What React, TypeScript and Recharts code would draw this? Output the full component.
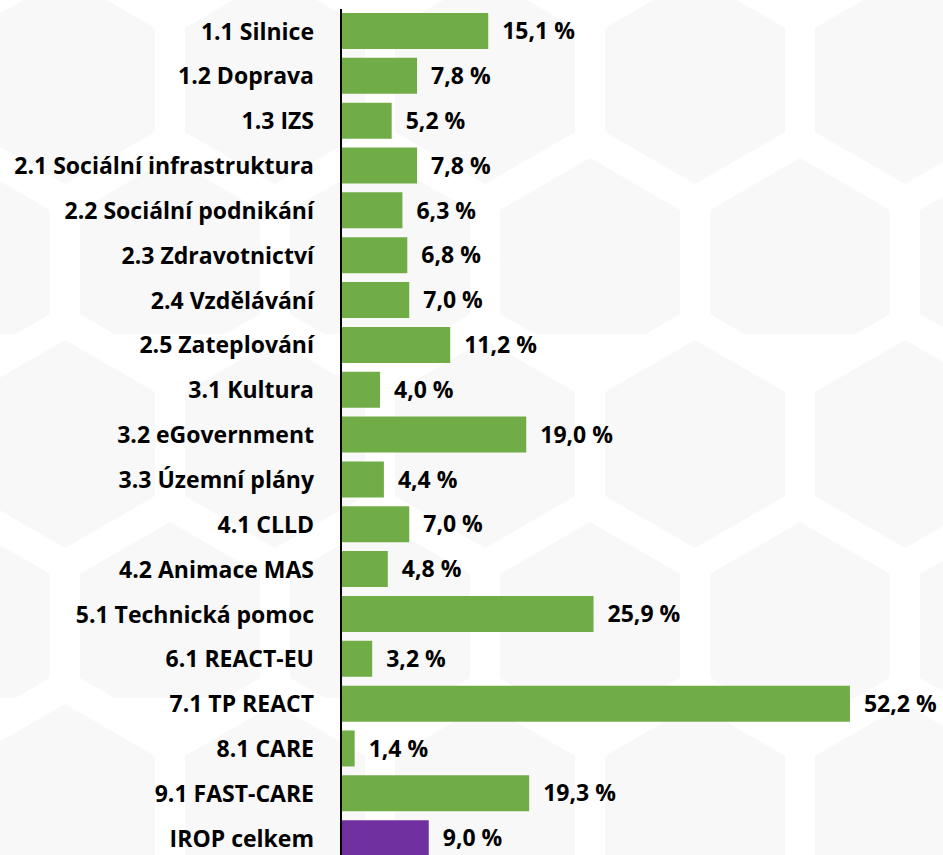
import React from 'react';
import { BarChart, Bar, XAxis, YAxis, Cell, LabelList } from 'recharts';

const categories = [
  '1.1 Silnice',
  '1.2 Doprava',
  '1.3 IZS',
  '2.1 Sociální infrastruktura',
  '2.2 Sociální podnikání',
  '2.3 Zdravotnictví',
  '2.4 Vzdělávání',
  '2.5 Zateplování',
  '3.1 Kultura',
  '3.2 eGovernment',
  '3.3 Územní plány',
  '4.1 CLLD',
  '4.2 Animace MAS',
  '5.1 Technická pomoc',
  '6.1 REACT-EU',
  '7.1 TP REACT',
  '8.1 CARE',
  '9.1 FAST-CARE',
  'IROP celkem',
];
const shares = [15.1, 7.8, 5.2, 7.8, 6.3, 6.8, 7.0, 11.2, 4.0, 19.0, 4.4, 7.0, 4.8, 25.9, 3.2, 52.2, 1.4, 19.3, 9.0];
const totalLabel = 'IROP celkem';

const GREEN = '#70AD47';
const PURPLE = '#7030A0';
const FONT = '"Open Sans", "Noto Sans", sans-serif';

const data = categories.map((name, i) => ({ name, value: shares[i] }));

const fmt = (v: any) => `${Number(v).toFixed(1).replace('.', ',')} %`;

// faint hexagon decoration behind the chart
const HexBackground: React.FC = () => (
  <svg width={943} height={855} style={{ position: 'absolute', left: 0, top: 0 }}>
    <defs>
      <pattern id="hex" width={210} height={364} patternUnits="userSpaceOnUse" x={-40} y={-30}>
        <polygon points="105,6 195,58 195,162 105,214 15,162 15,58" fill="#f8f8f8" />
        <polygon points="0,188 90,240 90,344 0,396 -90,344 -90,240" fill="#f8f8f8" />
        <polygon points="210,188 300,240 300,344 210,396 120,344 120,240" fill="#f8f8f8" />
      </pattern>
    </defs>
    <rect width={943} height={855} fill="url(#hex)" />
  </svg>
);

export default function App() {
  return (
    <div
      style={{
        position: 'fixed',
        left: 0,
        top: 0,
        width: 943,
        height: 855,
        overflow: 'hidden',
        background: '#ffffff',
        fontFamily: FONT,
      }}
    >
      <HexBackground />
      <div style={{ position: 'absolute', left: 0, top: 0 }}>
        <BarChart
          width={943}
          height={861}
          data={data}
          layout="vertical"
          margin={{ top: 9, right: 17, bottom: 0, left: 0 }}
          barCategoryGap={9}
        >
          <XAxis type="number" domain={[0, 60]} hide />
          <YAxis
            type="category"
            dataKey="name"
            width={341}
            axisLine={{ stroke: '#000000', strokeWidth: 2 }}
            tickLine={false}
            tickMargin={21}
            interval={0}
            tick={{ fill: '#000000', fontSize: 23, fontWeight: 700, fontFamily: FONT }}
          />
          <Bar dataKey="value" isAnimationActive={false} barSize={36}>
            {data.map((d) => (
              <Cell key={d.name} fill={d.name === totalLabel ? PURPLE : GREEN} />
            ))}
            <LabelList
              dataKey="value"
              position="right"
              offset={14}
              formatter={fmt}
              style={{ fill: '#000000', fontSize: 23, fontWeight: 700, fontFamily: FONT }}
            />
          </Bar>
        </BarChart>
      </div>
    </div>
  );
}
